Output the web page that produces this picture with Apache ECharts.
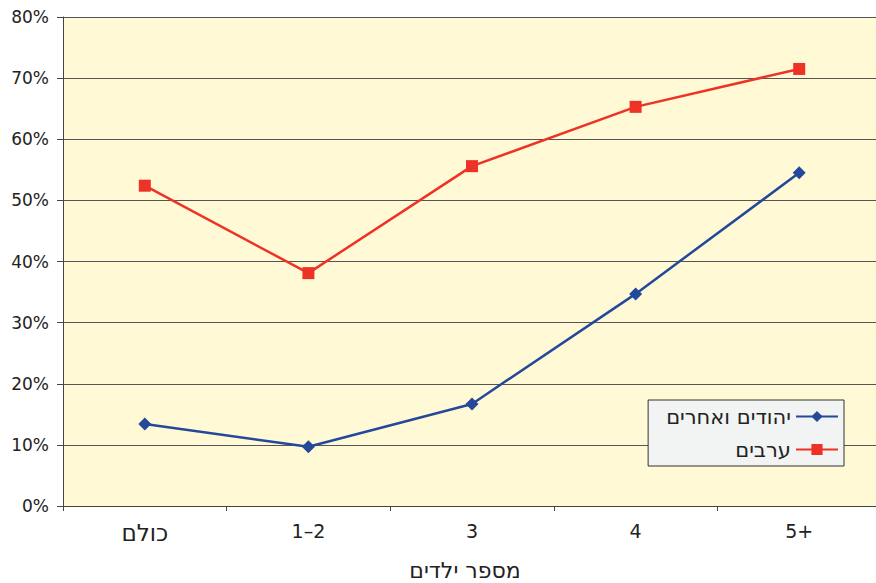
<!DOCTYPE html>
<html><head><meta charset="utf-8">
<script src="https://cdn.jsdelivr.net/npm/echarts@6/dist/echarts.min.js"></script>
<style>html,body{margin:0;padding:0;background:#fff}#c{width:876px;height:583px}</style>
</head><body><div id="c"></div>
<script>
const categories = ['כולם', '1–2', '3', '4', '5+'];
const jewsOthers = [13.4, 9.7, 16.7, 34.7, 54.5];
const arabs = [52.4, 38.1, 55.6, 65.3, 71.5];
const yTicks = [0, 10, 20, 30, 40, 50, 60, 70, 80];
const seriesNames = ['יהודים ואחרים', 'ערבים'];
const xTitle = 'מספר ילדים';

const font = 'DejaVu Sans';
const isHeb = s => /[\u0590-\u05FF]/.test(s);
const chart = echarts.init(document.getElementById('c'), null, { renderer: 'svg' });
chart.setOption({
  animation: false,
  backgroundColor: '#fff',
  grid: { left: 63, right: -5, top: 17, bottom: 77, show: true, backgroundColor: '#FFF9D6', borderWidth: 0,
          outerBoundsMode: 'none', containLabel: false },
  xAxis: {
    type: 'category', data: categories, boundaryGap: true,
    axisLine: { lineStyle: { color: '#444', width: 1 } },
    axisTick: { show: true, length: 5, lineStyle: { color: '#444' } },
    axisLabel: { color: '#222', fontSize: 19, fontFamily: font, margin: 15,
      formatter: v => isHeb(v) ? '{h|' + v + '}' : v,
      rich: { h: { fontSize: 23, fontFamily: font, color: '#222' } } },
    name: xTitle, nameLocation: 'middle', nameGap: 53,
    nameTextStyle: { color: '#222', fontSize: 22, fontFamily: font, padding: [0, 0, 0, -14] }
  },
  yAxis: {
    type: 'value', min: yTicks[0], max: yTicks[yTicks.length - 1], interval: 10,
    axisLine: { show: true, lineStyle: { color: '#444', width: 1 } },
    axisTick: { show: true, length: 6, lineStyle: { color: '#444' } },
    axisLabel: { color: '#222', fontSize: 17, fontFamily: font, margin: 14, formatter: v => v + '%' },
    splitLine: { lineStyle: { color: '#555', width: 1 } }
  },
  legend: {
    orient: 'vertical', right: 32, top: 400, align: 'right',
    backgroundColor: '#F2F3F3', borderColor: '#333', borderWidth: 1,
    padding: [6, 5, 6, 18], itemGap: 12, itemWidth: 42, itemHeight: 14,
    textStyle: { color: '#222', fontSize: 21, lineHeight: 20, fontFamily: font },
    data: seriesNames
  },
  series: [
    { name: seriesNames[0], type: 'line', data: jewsOthers, symbol: 'diamond', symbolSize: 13,
      lineStyle: { color: '#24489A', width: 2.5 }, itemStyle: { color: '#24489A' } },
    { name: seriesNames[1], type: 'line', data: arabs, symbol: 'rect', symbolSize: 12,
      lineStyle: { color: '#EE3326', width: 2.5 }, itemStyle: { color: '#EE3326' } }
  ]
});
</script></body></html>
